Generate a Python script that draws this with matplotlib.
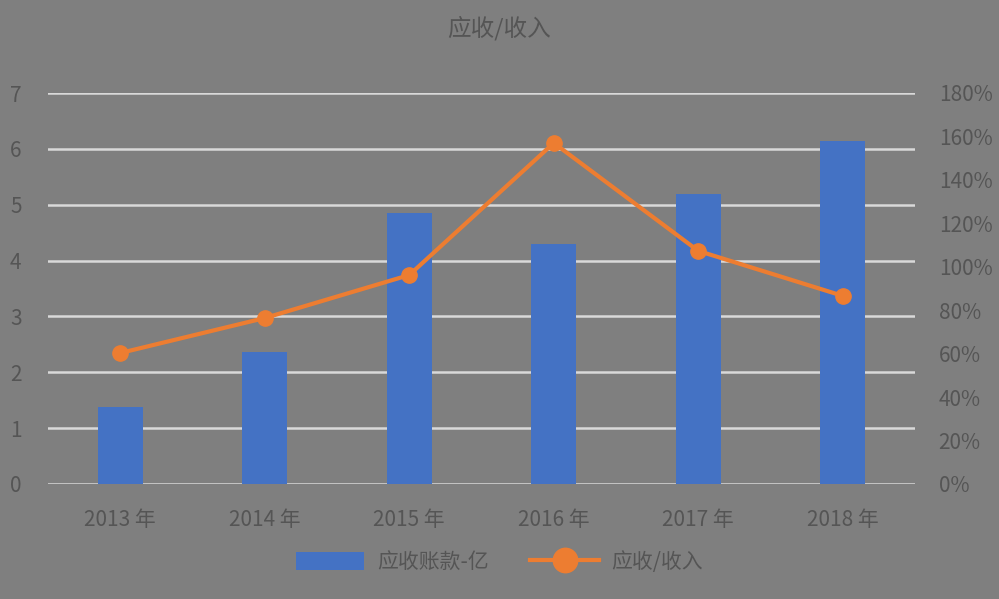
import matplotlib
matplotlib.use("Agg")
import matplotlib.pyplot as plt
import numpy as np

plt.rcParams['font.family'] = ['Noto Sans CJK SC', 'DejaVu Sans']

years = ["2013 年", "2014 年", "2015 年", "2016 年", "2017 年", "2018 年"]
receivables = [1.38, 2.36, 4.85, 4.30, 5.19, 6.14]
ratio_pct = [60.3, 76.4, 96.2, 157.0, 107.3, 86.6]
left_ticks = [0, 1, 2, 3, 4, 5, 6, 7]
right_ticks = [0, 20, 40, 60, 80, 100, 120, 140, 160, 180]

bg = "#7f7f7f"
txt = "#555555"
bar_c = "#4472C4"
line_c = "#ED7D31"

fig = plt.figure(figsize=(9.99, 5.99), dpi=100, facecolor=bg)
ax = fig.add_axes([0.048, 1 - 484 / 599, 0.868, (484 - 93) / 599])
ax.set_facecolor(bg)
x = np.arange(len(years))
bars = ax.bar(x, receivables, width=0.31, color=bar_c, zorder=3, label="应收账款-亿")
ax.set_xlim(-0.5, len(years) - 0.5)
ax.set_ylim(0, 7)
ax.set_yticks(left_ticks)
ax.grid(axis="y", color="#d9d9d9", linewidth=1.8, zorder=0)
for s in ax.spines.values():
    s.set_visible(False)
ax.tick_params(axis="both", length=0, colors=txt, labelsize=15)
ax.tick_params(axis="y", pad=19)
ax.tick_params(axis="x", pad=18)
ax.set_xticks(x)
ax.set_xticklabels(years, fontsize=15, color=txt)

ax2 = ax.twinx()
ax2.set_ylim(0, 180)
ax2.set_yticks(right_ticks)
ax2.set_yticklabels([f"{v}%" for v in right_ticks])
for s in ax2.spines.values():
    s.set_visible(False)
ax2.tick_params(axis="y", length=0, colors=txt, labelsize=15, pad=17)
ln, = ax2.plot(x, ratio_pct, color=line_c, linewidth=3, marker="o", markersize=11,
               zorder=4, label="应收/收入")

fig.text(0.5, 1 - 28 / 599, "应收/收入", ha="center", va="center", fontsize=17,
         color=txt)

fig.legend(handles=[bars, ln], labels=["应收账款-亿", "应收/收入"], loc="center",
           bbox_to_anchor=(0.5, 1 - 562 / 599), ncol=2, frameon=False,
           fontsize=15, labelcolor=txt, handlelength=3.3, handleheight=1.0,
           columnspacing=2.0, handletextpad=0.6, markerscale=1.6)

fig.savefig("out.png", dpi=100, facecolor=bg)
